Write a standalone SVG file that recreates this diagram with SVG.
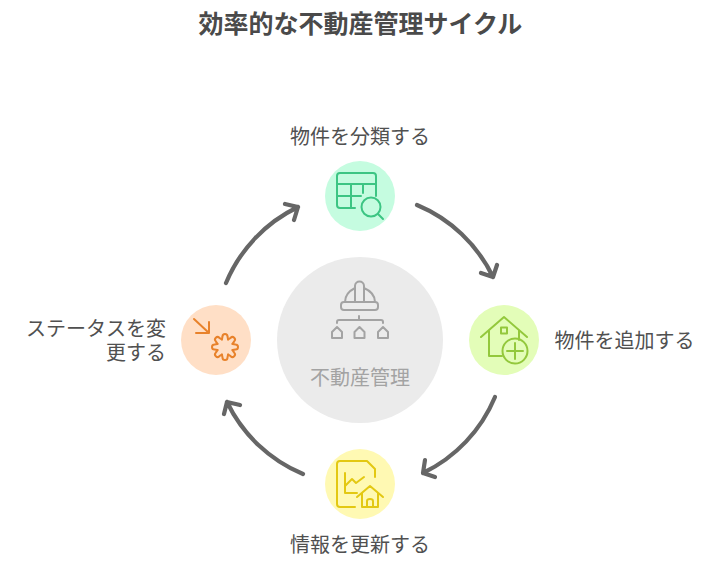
<svg xmlns="http://www.w3.org/2000/svg" xmlns:xlink="http://www.w3.org/1999/xlink" width="720" height="575" viewBox="0 0 720 575">
<style>
text{font-family:"Noto Sans CJK JP","Noto Sans CJK SC",sans-serif;font-size:20px;fill:#505050}
.title{font-size:25px;font-weight:700;fill:#4a4a4a}
.ic{fill:none;stroke-width:2;stroke-linecap:round;stroke-linejoin:round}
.arc{fill:none;stroke:#666;stroke-width:4.2;stroke-linecap:round;stroke-linejoin:round}
</style>
<rect width="720" height="575" fill="#fff"/>
<text class="title" x="360.500" y="33" text-anchor="middle">効率的な不動産管理サイクル</text>
<g id="connectors">
<path class="arc" d="M417 205A147 147 0 0 1 493 277M497 265L493 277L481 273"/>
<path class="arc" d="M495 397A147 147 0 0 1 423 473M425 460L423 473L435 477"/>
<path class="arc" d="M303 474A147 147 0 0 1 227 402M224 414L227 402L240 405"/>
<path class="arc" d="M226 283A147 147 0 0 1 298 207M285 204L298 207L294 220"/>
</g>
<g id="center">
<circle cx="360" cy="340" r="83" fill="#ebebeb"/>
<g class="ic" stroke="#a3a3a3">
<rect x="341" y="302" width="37" height="8" rx="3"/>
<path d="M345 302C345 295 349 291 355 288M375 302C375 295 371 291 364 288M355 302V286C355 280 364 280 364 286V302"/>
<path d="M359 316V320M337 323V322Q337 320 339 320H381Q383 320 383 322V323"/>
<path d="M332 338V332L337 327L342 332V338Z"/>
<path d="M354.500 338V332L359.500 327L364.500 332V338Z"/>
<path d="M378 338V332L383 327L388 332V338Z"/>
</g>
<text x="360" y="385" text-anchor="middle" style="fill:#a3a3a3">不動産管理</text>
</g>
<g id="node-classify">
<circle cx="360" cy="196" r="35" fill="#c5fce0"/>
<g class="ic" stroke="#3cc583">
<path d="M355 208H340Q337 208 337 205V176Q337 173 340 173H373Q376 173 376 176V196M337 184H376M337 196H361M351 184V208M363 184V193"/>
<circle cx="371" cy="207" r="9.500"/>
<path d="M378 214L383 219"/>
</g>
<text x="360" y="144" text-anchor="middle">物件を分類する</text>
</g>
<g id="node-add">
<circle cx="504" cy="340" r="35" fill="#e3fdb8"/>
<g class="ic" stroke="#93c83c">
<path d="M481 337L504 317L527 337M489 331V356H502M519 330V340"/>
<rect x="501" y="327.500" width="6" height="6"/>
<circle cx="515" cy="351" r="12.500"/>
<path d="M515 343V359M507 351H523"/>
</g>
<text x="554.500" y="348">物件を追加する</text>
</g>
<g id="node-update">
<circle cx="360" cy="484" r="35" fill="#fff9b3"/>
<g class="ic" stroke="#e3c812">
<path d="M355 507H340Q337 507 337 504V464Q337 461 340 461H367L375 469V477"/>
<path d="M345 473V493H357M345 486L352 479L356 483L364 477"/>
<path d="M357 497L370 486L383 497M362 493V507H378V493M367 507V501Q367 499 370 499Q373 499 373 501V507"/>
</g>
<text x="360" y="552" text-anchor="middle">情報を更新する</text>
</g>
<g id="node-status">
<circle cx="216" cy="340" r="35" fill="#ffdfc6"/>
<g class="ic" stroke="#e8822b">
<path d="M194 319L209 333M196 333H209V322"/>
<g transform="translate(225 347)">
<path id="l" d="M7.500 -3.100L10.500 -2.500A2.500 2.500 0 0 1 10.500 2.500L7.500 3.100"/>
<use xlink:href="#l" href="#l" transform="rotate(45)"/>
<use xlink:href="#l" href="#l" transform="rotate(90)"/>
<use xlink:href="#l" href="#l" transform="rotate(135)"/>
<use xlink:href="#l" href="#l" transform="rotate(180)"/>
<use xlink:href="#l" href="#l" transform="rotate(225)"/>
<use xlink:href="#l" href="#l" transform="rotate(270)"/>
<use xlink:href="#l" href="#l" transform="rotate(315)"/>
</g>
</g>
<text x="166" y="336" text-anchor="end">ステータスを変</text>
<text x="166" y="360" text-anchor="end">更する</text>
</g>
</svg>
